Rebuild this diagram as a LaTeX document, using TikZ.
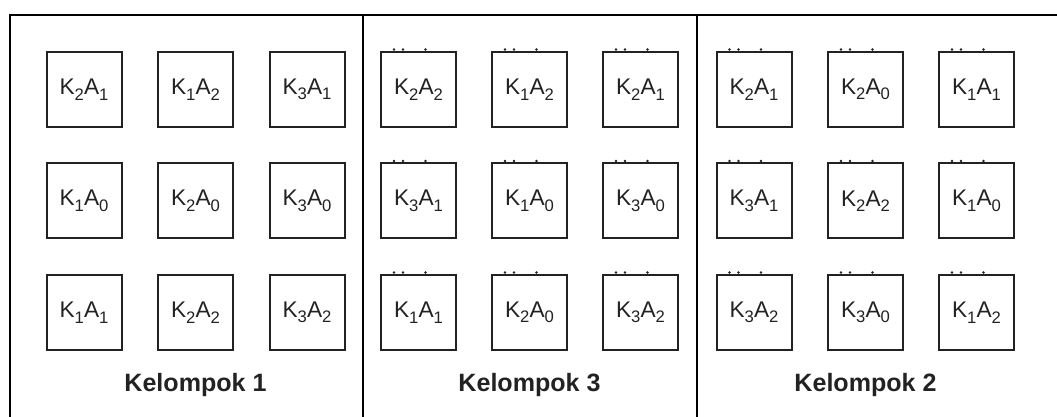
\documentclass[tikz,border=0pt]{standalone}
\usepackage{fontspec}
\setmainfont{Liberation Sans}
\definecolor{ink}{HTML}{222222}
% treatment label: K_k A_a, with dropped subscripts
\newcommand{\lowsub}[1]{\raisebox{-0.24em}{\fontsize{12.5}{14}\selectfont #1}}
\newcommand{\KA}[2]{K\lowsub{#1}A\lowsub{#2}}
\begin{document}
\begin{tikzpicture}[x=0.75pt,y=-0.75pt,
  cell/.style={draw=ink, line width=1.5pt, minimum size=56.25pt, inner sep=0pt,
    font=\fontsize{17}{20}\selectfont, text=ink},
  grouplabel/.style={font=\fontsize{18.8}{22}\selectfont\bfseries, text=ink, anchor=base, inner sep=0pt},
  frame/.style={draw=black, line width=1.1pt},
  speck/.style={fill=ink, draw=none}]
\useasboundingbox (0,0) rectangle (1057,417);

% outer frame and group dividers (running off the right and bottom edges)
\begin{scope}
  \clip (0,0) rectangle (1057,417);
  \draw[frame] (10,15) rectangle (1080,440);
  \draw[frame] (363,15) -- (363,440);
  \draw[frame] (697,15) -- (697,440);
\end{scope}

% Kelompok 1
\node[cell] (a11) at (84,89.5)    {\KA{2}{1}};
\node[cell] (a12) at (195.5,89.5) {\KA{1}{2}};
\node[cell] (a13) at (307,89.5)   {\KA{3}{1}};
\node[cell] (a21) at (84,201)     {\KA{1}{0}};
\node[cell] (a22) at (195.5,201)  {\KA{2}{0}};
\node[cell] (a23) at (307,201)    {\KA{3}{0}};
\node[cell] (a31) at (84,312.5)   {\KA{1}{1}};
\node[cell] (a32) at (195.5,312.5){\KA{2}{2}};
\node[cell] (a33) at (307,312.5)  {\KA{3}{2}};

% Kelompok 3
\node[cell] (b11) at (418.5,89.5) {\KA{2}{2}};
\node[cell] (b12) at (529.5,89.5) {\KA{1}{2}};
\node[cell] (b13) at (640.5,89.5) {\KA{2}{1}};
\node[cell] (b21) at (418.5,201)  {\KA{3}{1}};
\node[cell] (b22) at (529.5,201)  {\KA{1}{0}};
\node[cell] (b23) at (640.5,201)  {\KA{3}{0}};
\node[cell] (b31) at (418.5,312.5){\KA{1}{1}};
\node[cell] (b32) at (529.5,312.5){\KA{2}{0}};
\node[cell] (b33) at (640.5,312.5){\KA{3}{2}};

% Kelompok 2
\node[cell] (c11) at (754,89.5)   {\KA{2}{1}};
\node[cell] (c12) at (865.5,89.5) {\KA{2}{0}};
\node[cell] (c13) at (976.5,89.5) {\KA{1}{1}};
\node[cell] (c21) at (754,201)    {\KA{3}{1}};
\node[cell] (c22) at (865.5,201)  {\KA{2}{2}};
\node[cell] (c23) at (976.5,201)  {\KA{1}{0}};
\node[cell] (c31) at (754,312.5)  {\KA{3}{2}};
\node[cell] (c32) at (865.5,312.5){\KA{3}{0}};
\node[cell] (c33) at (976.5,312.5){\KA{1}{2}};

% small specks sitting on the top edges of the copied boxes
\foreach \n in {b11,b12,b13,b21,b22,b23,b31,b32,b33,c11,c12,c13,c21,c22,c23,c31,c32,c33}{
  \foreach \dx in {-24.5,-15.5,7}{
    \fill[speck] ([shift={(\dx,-1.5)}]\n.north) circle[radius=1pt];
  }
}

% group captions
\node[grouplabel] (k1) at (195.5,391.5) {Kelompok 1};
\node[grouplabel] (k3) at (529.5,391.5) {Kelompok 3};
\node[grouplabel] (k2) at (865.5,391.5) {Kelompok 2};
\end{tikzpicture}
\end{document}
